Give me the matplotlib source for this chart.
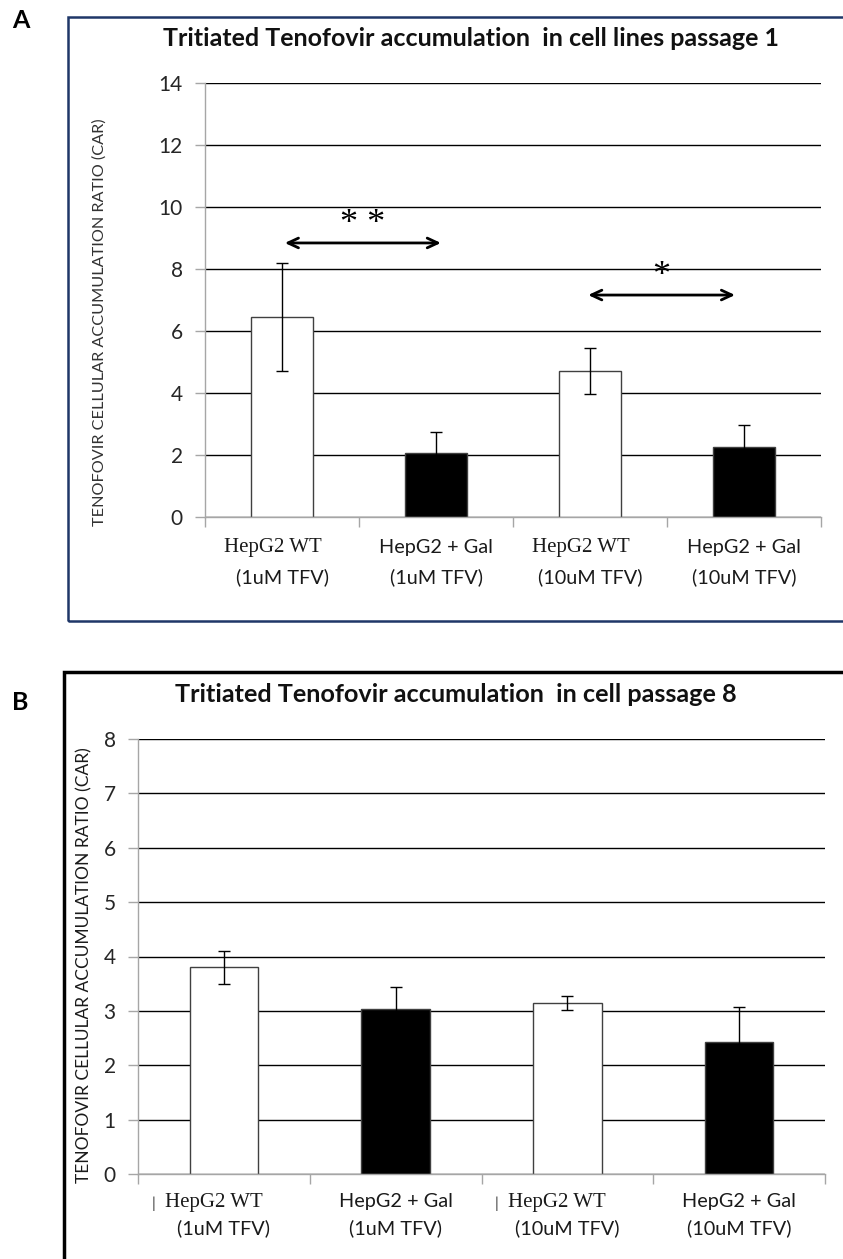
import matplotlib.pyplot as plt
from matplotlib.patches import Rectangle
from matplotlib.transforms import blended_transform_factory

plt.rcParams['font.family'] = ['Lato', 'DejaVu Sans']

# data
groups = ['HepG2 WT', 'HepG2 + Gal', 'HepG2 WT', 'HepG2 + Gal']
doses = ['(1uM TFV)', '(1uM TFV)', '(10uM TFV)', '(10uM TFV)']
bar_colors = ['white', 'black', 'white', 'black']

car_p1 = [6.45, 2.07, 4.70, 2.25]
err_p1 = [1.75, 0.68, 0.74, 0.72]

car_p8 = [3.80, 3.03, 3.14, 2.42]
err_p8 = [0.30, 0.41, 0.13, 0.66]

# significance brackets: (from bar, to bar, height, label)
sig_p1 = [(0, 1.05, 8.84, '* *'), (1.97, 2.96, 7.16, '*')]

W, H = 843, 1259
fig = plt.figure(figsize=(W / 100, H / 100), dpi=100)


def fx(px):
    return px / W


def fy(py):
    return 1 - py / H


def draw_panel(ax, vals, errs, ymax, ystep, label_y1, label_y2):
    x = range(len(vals))
    ax.bar(x, vals, width=0.4, color=bar_colors, edgecolor='#404040', linewidth=1.0, zorder=2)
    ax.errorbar(x, vals, yerr=errs, fmt='none', ecolor='black', elinewidth=1.0,
                capsize=4, capthick=1.0, zorder=3)
    ax.set_xlim(-0.5, len(vals) - 0.5)
    ax.set_ylim(0, ymax)
    ax.set_yticks(range(0, ymax + 1, ystep))
    ax.set_xticks([i - 0.5 for i in range(len(vals) + 1)])
    ax.set_xticklabels([])
    ax.yaxis.grid(True, color='black', linewidth=1.0)
    ax.set_axisbelow(True)
    for s in ['top', 'right']:
        ax.spines[s].set_visible(False)
    for s in ['left', 'bottom']:
        ax.spines[s].set_color('#a6a6a6')
        ax.spines[s].set_linewidth(1.0)
    ax.tick_params(axis='x', length=7, color='#a6a6a6', width=1)
    ax.tick_params(axis='y', length=7, color='#a6a6a6', width=1, labelsize=15,
                   labelcolor='#262626', pad=9)
    tr = blended_transform_factory(ax.transData, fig.transFigure)
    for i in x:
        if groups[i] == 'HepG2 WT':
            ax.text(i - 0.06, fy(label_y1), groups[i], transform=tr, ha='center', va='center',
                    fontsize=15, family='Liberation Serif', color='#1a1a1a')
        else:
            ax.text(i, fy(label_y1), groups[i], transform=tr, ha='center', va='center',
                    fontsize=14.3, color='#1a1a1a')
        ax.text(i, fy(label_y2), doses[i], transform=tr, ha='center', va='center',
                fontsize=14.3, color='#1a1a1a')


# ---- panel A ----
fig.patches.append(Rectangle((fx(68), fy(621)), fx(900) - fx(68), fy(17) - fy(621),
                             transform=fig.transFigure, fill=False, edgecolor='#1f3768',
                             linewidth=1.8))
fig.text(fx(12), fy(20), 'A', fontsize=18, fontweight='bold', ha='left', va='center')
fig.text(fx(471), fy(39), 'Tritiated Tenofovir accumulation  in cell lines passage 1',
         fontsize=18, fontweight='bold', ha='center', va='center', color='#111111')
fig.text(fx(100), fy(322), 'TENOFOVIR CELLULAR ACCUMULATION RATIO (CAR)', rotation=90,
         fontsize=11.7, ha='center', va='center', color='#333333')

axA = fig.add_axes([fx(205), fy(517), fx(821) - fx(205), fy(83) - fy(517)])
draw_panel(axA, car_p1, err_p1, 14, 2, 548, 577)
for x0, x1, yy, lab in sig_p1:
    axA.annotate('', xy=(x1, yy), xytext=(x0, yy),
                 arrowprops=dict(arrowstyle='<->,head_length=0.75,head_width=0.35',
                                 color='black', lw=2))
    axA.text((x0 + x1) / 2, yy + 0.05, lab, ha='center', va='bottom', fontsize=26,
             family='Liberation Serif', color='black')

# ---- panel B ----
fig.patches.append(Rectangle((fx(64), fy(1300)), fx(900) - fx(64), fy(672) - fy(1300),
                             transform=fig.transFigure, fill=False, edgecolor='black',
                             linewidth=2.5))
fig.text(fx(12), fy(703), 'B', fontsize=18, fontweight='bold', ha='left', va='center')
fig.text(fx(456), fy(694), 'Tritiated Tenofovir accumulation  in cell passage 8',
         fontsize=18.2, fontweight='bold', ha='center', va='center', color='#111111')
fig.text(fx(84), fy(965), 'TENOFOVIR CELLULAR ACCUMULATION RATIO (CAR)', rotation=90,
         fontsize=12.5, ha='center', va='center', color='#1a1a1a')

axB = fig.add_axes([fx(138), fy(1174), fx(825) - fx(138), fy(739) - fy(1174)])
draw_panel(axB, car_p8, err_p8, 8, 1, 1202, 1228)
# stray marks left of the WT labels
trB = blended_transform_factory(axB.transData, fig.transFigure)
for i in [0, 2]:
    axB.text(i - 0.41, fy(1204), '|', transform=trB, ha='center', va='center', fontsize=11,
             color='#333333')

fig.savefig('out.png', dpi=100)
